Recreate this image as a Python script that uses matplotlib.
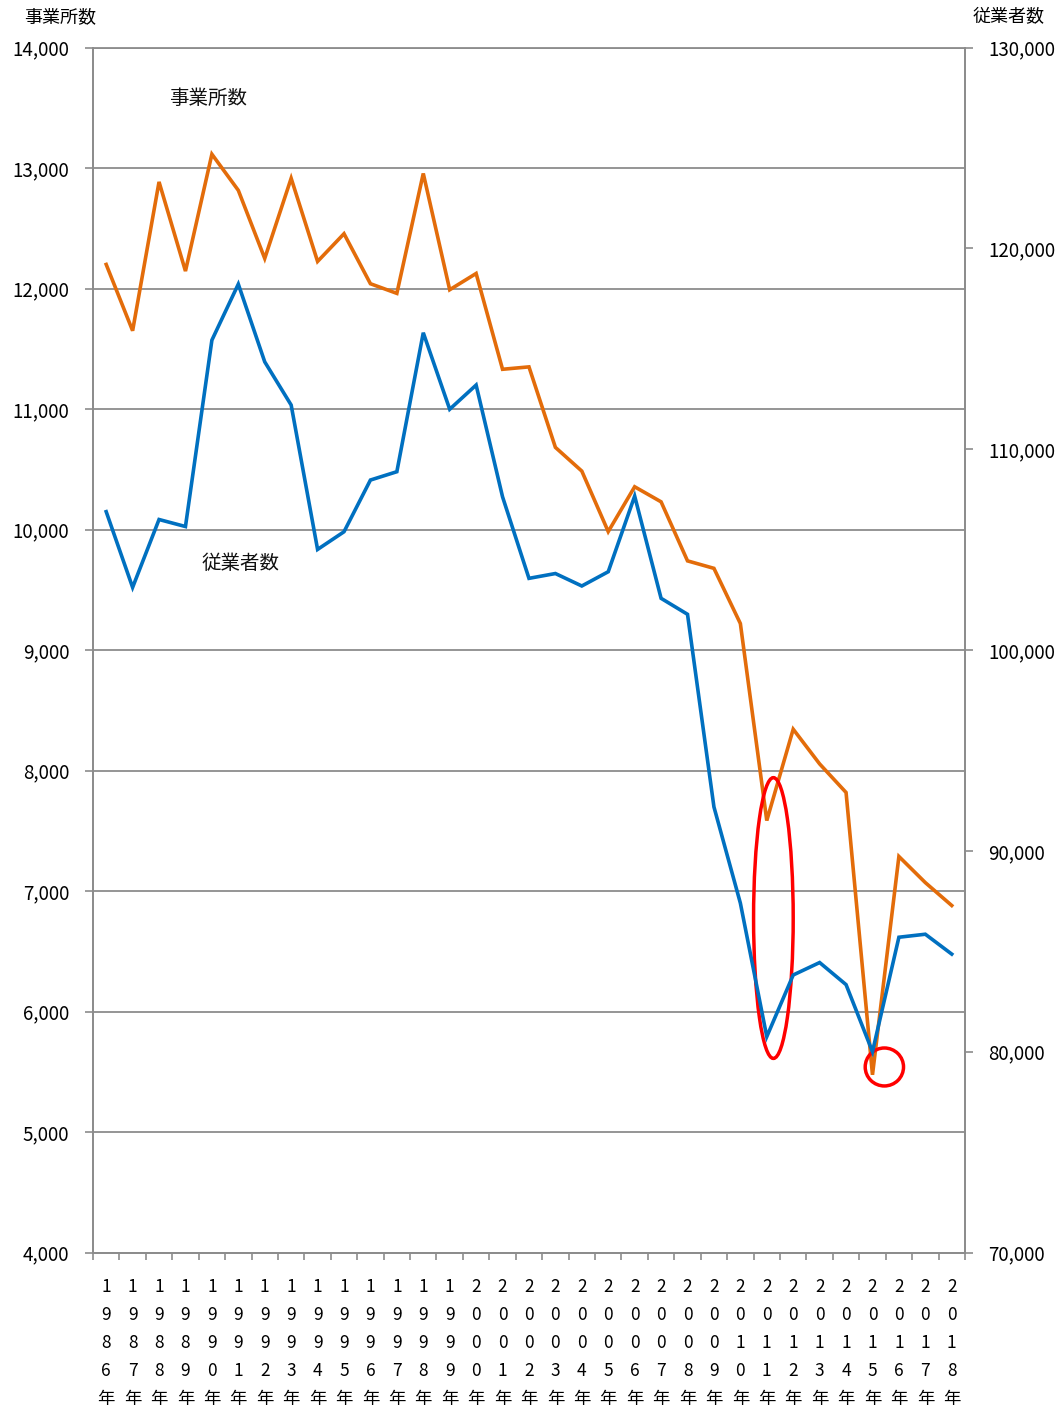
import matplotlib
matplotlib.use("Agg")
import matplotlib.pyplot as plt
from matplotlib.patches import Ellipse
from matplotlib.ticker import FuncFormatter, FixedLocator

plt.rcParams['font.family'] = ['Noto Sans CJK JP', 'DejaVu Sans']

years = list(range(1986, 2019))
establishments = [12200, 11650, 12885, 12145, 13115, 12815, 12250, 12915, 12225, 12455,
                  12040, 11960, 12955, 11990, 12125, 11330, 11350, 10682, 10485, 9983,
                  10355, 10230, 9740, 9678, 9220, 7585, 8343, 8055, 7818, 5475,
                  7287, 7070, 6880]
employees = [106890, 103120, 106500, 106150, 115430, 118220, 114350, 112200, 105010, 105890,
             108465, 108880, 115800, 111990, 113195, 107630, 103570, 103810, 103190, 103900,
             107665, 102575, 101780, 92190, 87400, 80750, 83820, 84440, 83340, 80000,
             85700, 85850, 84860]
left_ticks = list(range(4000, 14001, 1000))
right_ticks = list(range(70000, 130001, 10000))
x_labels = ["\n".join(str(y)) + "\n年" for y in years]

ORANGE = "#E36C0A"
BLUE = "#0070C0"
GRID = "#8C8C8C"

fig = plt.figure(figsize=(10.59, 14.11), dpi=100)
ax = fig.add_axes([0.0878, 0.1123, 0.8234, 0.854])
ax2 = ax.twinx()

xs = list(range(len(years)))
ax.plot(xs, establishments, color=ORANGE, lw=2.6, solid_joinstyle='miter', zorder=3)
ax2.plot(xs, employees, color=BLUE, lw=2.6, solid_joinstyle='miter', zorder=3)

ax.set_xlim(-0.5, len(years) - 0.5)
ax.set_ylim(4000, 14000)
ax2.set_ylim(70000, 130000)

ax.yaxis.set_major_locator(FixedLocator(left_ticks))
ax2.yaxis.set_major_locator(FixedLocator(right_ticks))
fmt = FuncFormatter(lambda v, p: f"{int(v):,}")
ax.yaxis.set_major_formatter(fmt)
ax2.yaxis.set_major_formatter(fmt)

ax.set_xticks([i - 0.5 for i in range(len(years) + 1)])
ax.set_xticklabels([])
ax.set_xticks(xs, minor=True)
ax.set_xticklabels(x_labels, minor=True, fontsize=12.5, linespacing=1.72, va='top')
ax.tick_params(axis='x', which='major', length=5, color=GRID, width=1.2, direction='out')
ax.tick_params(axis='x', which='minor', length=0, pad=18)

ax.tick_params(axis='y', length=6, color=GRID, width=1.2, labelsize=13.5, pad=11)
ax2.tick_params(axis='y', length=6, color=GRID, width=1.2, labelsize=13.5, pad=11)

ax.grid(axis='y', color=GRID, lw=1.3, zorder=0)
ax.set_axisbelow(True)
for a in (ax, ax2):
    for s in a.spines.values():
        s.set_color(GRID)
        s.set_linewidth(1.3)
ax2.spines['top'].set_visible(False)

ax.text(3.86, 13575, "事業所数", fontsize=14, ha='center', va='center', color='#111111')
ax.text(5.07, 9722, "従業者数", fontsize=14, ha='center', va='center', color='#111111')

fig.text(0.057, 0.988, "事業所数", fontsize=13, ha='center', va='center')
fig.text(0.952, 0.988, "従業者数", fontsize=13, ha='center', va='center')

ax.add_patch(Ellipse((25.25, 6776), 1.5, 2330, fill=False, edgecolor='#FF0000', lw=2.5, zorder=5))
ax.add_patch(Ellipse((29.45, 5540), 1.45, 315, fill=False, edgecolor='#FF0000', lw=2.5, zorder=5))

fig.savefig("out.png", dpi=100, facecolor='white')
